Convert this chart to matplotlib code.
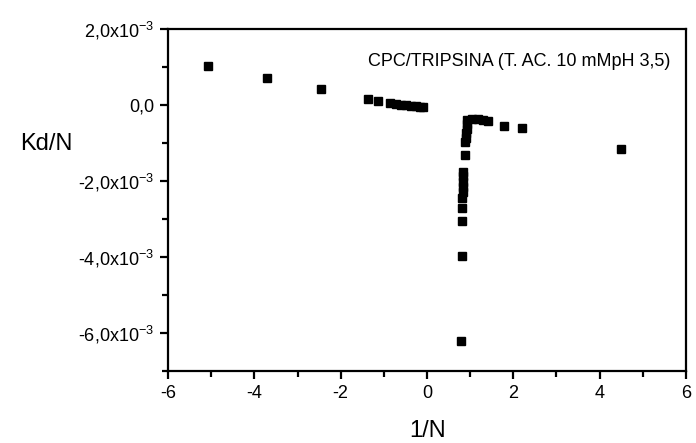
import numpy as np
import matplotlib
matplotlib.use("Agg")
import matplotlib.pyplot as plt
from matplotlib.ticker import MultipleLocator, FuncFormatter

plt.rcParams['font.family'] = ['Liberation Sans', 'DejaVu Sans']
plt.rcParams['mathtext.fontset'] = 'custom'
plt.rcParams['mathtext.rm'] = 'Liberation Sans'

# ── data (Kd/N in units of 1e-3) ──
inv_n = [-5.07, -3.70, -2.45, -1.37, -1.13,
         -0.85, -0.72, -0.60, -0.48, -0.37, -0.26, -0.16, -0.09,
         0.93, 1.05, 1.18, 1.30, 1.42, 1.78, 2.20, 4.49,
         0.92, 0.92, 0.91, 0.90, 0.89, 0.88,
         0.84, 0.84, 0.83, 0.83, 0.83, 0.82, 0.82, 0.81, 0.80, 0.78]
kd_n = [1.03, 0.72, 0.42, 0.16, 0.11,
        0.05, 0.03, 0.01, 0.00, -0.02, -0.03, -0.05, -0.06,
        -0.40, -0.36, -0.37, -0.39, -0.42, -0.55, -0.61, -1.17,
        -0.50, -0.62, -0.74, -0.86, -0.98, -1.32,
        -1.75, -1.88, -2.02, -2.15, -2.30, -2.45, -2.70, -3.05, -3.97, -6.20]

kd_n = np.asarray(kd_n) * 1e-3

fig = plt.figure(figsize=(6.96, 4.43), dpi=100)
ax = fig.add_axes([0.2414, 0.1625, 0.7442, 0.772])

ax.plot(inv_n, kd_n, 's', color='black', ms=5.5, mec='black')

ax.set_xlim(-6, 6)
ax.set_ylim(-7e-3, 2e-3)

ax.xaxis.set_major_locator(MultipleLocator(2))
ax.xaxis.set_minor_locator(MultipleLocator(1))
ax.yaxis.set_major_locator(MultipleLocator(2e-3))
ax.yaxis.set_minor_locator(MultipleLocator(1e-3))


def yfmt(v, pos):
    m = round(v * 1e3, 6)
    if abs(m) < 1e-9:
        return "0,0"
    return f"{m:.1f}".replace(".", ",") + r"x10$^{-3}$"


ax.yaxis.set_major_formatter(FuncFormatter(yfmt))
ax.xaxis.set_major_formatter(FuncFormatter(lambda v, p: f"{v:.0f}"))

for s in ax.spines.values():
    s.set_linewidth(1.6)
ax.tick_params(which='major', direction='out', length=6, width=1.6, labelsize=13, pad=4)
ax.tick_params(which='minor', direction='out', length=4, width=1.6)

ax.set_xlabel("1/N", fontsize=17)
ax.xaxis.set_label_coords(0.502, -0.143)
ax.set_ylabel("Kd/N", fontsize=17, rotation=0)
ax.yaxis.set_label_coords(-0.235, 0.632)

ax.text(0.97, 0.905, "CPC/TRIPSINA (T. AC. 10 mMpH 3,5)", transform=ax.transAxes,
        ha='right', va='center', fontsize=13)

fig.savefig("out.png", dpi=100)
